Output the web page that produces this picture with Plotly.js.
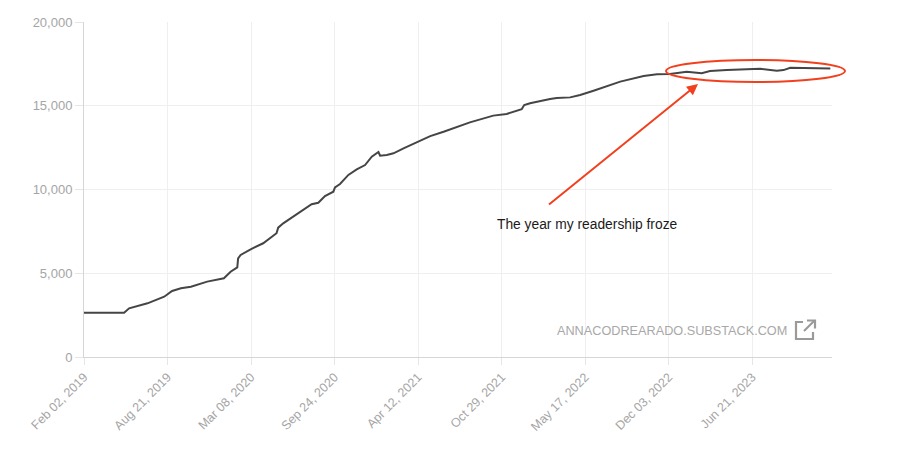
<!DOCTYPE html>
<html>
<head>
<meta charset="utf-8">
<script src="https://cdn.plot.ly/plotly-3.0.1.min.js"></script>
<style>
  html, body { margin: 0; padding: 0; background: #fff; }
  #chart { width: 924px; height: 460px; }
</style>
</head>
<body>
<div id="chart"></div>
<script>
// ---- data ----
const dates = [
  "2019-02-02","2019-05-09","2019-05-21","2019-07-04","2019-08-13","2019-09-01",
  "2019-09-22","2019-10-16","2019-11-24","2020-01-03","2020-01-19","2020-02-04",
  "2020-02-06","2020-02-12","2020-03-07","2020-04-06","2020-05-08","2020-05-12",
  "2020-05-24","2020-07-11","2020-07-31","2020-08-16","2020-09-01","2020-09-21",
  "2020-09-25","2020-10-07","2020-10-27","2020-11-16","2020-12-06","2020-12-22",
  "2021-01-07","2021-01-11","2021-01-27","2021-02-12","2021-02-28","2021-03-08",
  "2021-05-11","2021-06-12","2021-08-14","2021-10-09","2021-11-10","2021-12-16",
  "2021-12-22","2022-01-05","2022-02-22","2022-03-10","2022-04-11","2022-05-05",
  "2022-06-06","2022-08-09","2022-10-04","2022-11-05","2022-12-06","2023-01-15",
  "2023-02-20","2023-03-12","2023-04-21","2023-06-16","2023-07-10","2023-08-19",
  "2023-09-04","2023-09-20","2023-11-07","2023-12-25"
];
const subscribers = [
  2645,2645,2907,3205,3600,3940,
  4100,4200,4500,4700,5090,5350,
  5890,6090,6430,6790,7390,7720,
  7980,8780,9120,9210,9610,9870,
  10130,10330,10870,11200,11460,11960,
  12240,12020,12060,12160,12360,12460,
  13190,13450,14010,14410,14510,14790,
  15040,15150,15400,15460,15500,15640,
  15900,16440,16780,16880,16900,17030,
  16940,17070,17130,17190,17210,17090,
  17130,17270,17270,17230
];
const tickDates = ["2019-02-02","2019-08-21","2020-03-08","2020-09-24","2021-04-12",
                   "2021-10-29","2022-05-17","2022-12-03","2023-06-21"];
const tickLabels = ["Feb 02, 2019","Aug 21, 2019","Mar 08, 2020","Sep 24, 2020","Apr 12, 2021",
                    "Oct 29, 2021","May 17, 2022","Dec 03, 2022","Jun 21, 2023"];
const yTicks = [0, 5000, 10000, 15000, 20000];
const annotationText = "The year my readership froze";
const sourceText = "ANNACODREARADO.SUBSTACK.COM";

// ---- layout helpers (pixel -> paper) ----
const W = 924, H = 460;
const M = {l: 84, r: 92, t: 22, b: 103};
const PW = W - M.l - M.r, PH = H - M.t - M.b;
const px = x => (x - M.l) / PW;
const py = y => (H - M.b - y) / PH;

const red = "#f2401f";
const iconColor = "#9a9a9a";

const trace = {
  x: dates, y: subscribers, type: "scatter", mode: "lines",
  line: {color: "#454545", width: 2, shape: "linear"},
  hoverinfo: "x+y"
};

const iconPath = (pts) => "M " + pts.map(p => px(p[0]) + "," + py(p[1])).join(" L ");

const layout = {
  width: W, height: H,
  margin: M,
  paper_bgcolor: "#fff", plot_bgcolor: "#fff",
  showlegend: false,
  font: {family: "Liberation Sans, Arial, Helvetica, sans-serif", color: "#999"},
  xaxis: {
    type: "date",
    range: ["2019-02-02", "2023-12-29"],
    tickvals: tickDates, ticktext: tickLabels,
    tickangle: -45,
    tickfont: {size: 12.5, color: "#a5a5a5"},
    showgrid: true, gridcolor: "#efefef", gridwidth: 1,
    showline: true, linecolor: "#d6d6d6", linewidth: 1,
    ticks: "outside", ticklen: 7, tickcolor: "#e6e6e6",
    zeroline: false, fixedrange: true
  },
  yaxis: {
    range: [0, 20000],
    tickvals: yTicks,
    tickformat: ",d",
    tickfont: {size: 13, color: "#a5a5a5"},
    showgrid: true, gridcolor: "#efefef", gridwidth: 1,
    showline: true, linecolor: "#d6d6d6", linewidth: 1,
    ticks: "outside", ticklen: 8, tickcolor: "#e6e6e6",
    zeroline: false, fixedrange: true
  },
  shapes: [
    {type: "circle", xref: "paper", yref: "paper",
     x0: px(666), x1: px(845), y0: py(82), y1: py(60),
     line: {color: red, width: 2}},
    {type: "path", xref: "paper", yref: "paper",
     path: iconPath([[803,322],[796,322],[796,339],[813,339],[813,332]]),
     line: {color: iconColor, width: 2.2}},
    {type: "path", xref: "paper", yref: "paper",
     path: iconPath([[804,331],[814,321]]),
     line: {color: iconColor, width: 2.2}},
    {type: "path", xref: "paper", yref: "paper",
     path: iconPath([[807,320.5],[815,320.5],[815,328.5]]),
     line: {color: iconColor, width: 2.2}}
  ],
  annotations: [
    {xref: "paper", yref: "paper", x: px(698), y: py(84),
     text: " ", showarrow: true, axref: "pixel", ayref: "pixel",
     ax: 546 - 698, ay: 207 - 84,
     arrowcolor: red, arrowwidth: 2, arrowhead: 2, arrowsize: 1.1, standoff: 0},
    {xref: "paper", yref: "paper", x: px(587.5), y: py(224),
     text: annotationText, showarrow: false,
     font: {size: 13.8, color: "#1a1a1a", family: "Liberation Sans, Arial, sans-serif"},
     xanchor: "center", yanchor: "middle"},
    {xref: "paper", yref: "paper", x: px(789), y: py(331),
     text: sourceText, showarrow: false,
     font: {size: 12.7, color: "#a8a8a8", family: "Liberation Sans, Arial, sans-serif"},
     xanchor: "right", yanchor: "middle"}
  ]
};

Plotly.newPlot("chart", [trace], layout, {displayModeBar: false, staticPlot: true});
</script>
</body>
</html>
